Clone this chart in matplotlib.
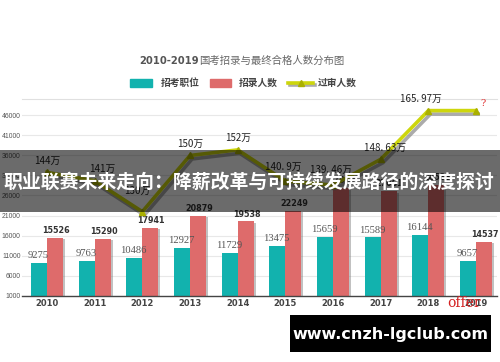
import matplotlib
matplotlib.use("Agg")
import matplotlib.pyplot as plt
import matplotlib.patheffects as pe
from matplotlib.patches import Rectangle
from matplotlib.lines import Line2D
import numpy as np

plt.rcParams['font.family'] = ['Noto Sans CJK SC', 'DejaVu Sans']

years = ['2010', '2011', '2012', '2013', '2014', '2015', '2016', '2017', '2018', '2019']
positions_count = [9275, 9763, 10486, 12927, 11729, 13475, 15659, 15589, 16144, 9657]
hired_count = [15526, 15290, 17941, 20879, 19538, 22249, 27817, 27061, 28533, 14537]
passed_wan = [144, 141, 130, 150, 152, 140.9, 139.46, 148.63, 165.97, 165.97]
passed_labels = ['144万', '141万', '130万', '150万', '152万', '140. 9万', '139. 46万', '148. 63万', '165. 97万', '?']
yticks = [1000, 6000, 11000, 16000, 21000, 26000, 31000, 36000, 41000, 46000]

TEAL = '#12b2ae'
RED = '#de6b6b'
LINE = '#cdd60c'
MARK = '#aab000'

W, H = 500, 362
fig = plt.figure(figsize=(W / 100, H / 100), dpi=100)
fig.patch.set_facecolor('white')

def fx(px):
    return px / W

def fy(py):
    return 1 - py / H

ax = fig.add_axes([fx(22), fy(296), (497 - 22) / W, (296 - 99) / H])
x = np.arange(len(years))
bw = 0.335
shadow = [pe.SimplePatchShadow(offset=(1.5, -1.0), shadow_rgbFace='#777777', alpha=0.45), pe.Normal()]
b1 = ax.bar(x - bw / 2, positions_count, bw, color=TEAL, zorder=3)
b2 = ax.bar(x + bw / 2, hired_count, bw, color=RED, zorder=3)
for b in list(b1) + list(b2):
    b.set_path_effects(shadow)

ax.set_xlim(-0.524, 9.44)
ax.set_ylim(1000, 50000)
ax.set_yticks(yticks)
ax.set_yticklabels([str(v) for v in yticks], fontsize=4.9, color='#555555', family='Liberation Sans')
ax.set_xticks(x)
ax.set_xticklabels(years, fontsize=6, fontweight='bold', color='#444444', family='DejaVu Sans')
ax.tick_params(axis='y', length=0, pad=1.0)
ax.tick_params(axis='x', length=0, pad=2)
ax.grid(axis='y', color='#e8e8e8', linewidth=0.8, zorder=0)
for s in ['left', 'right']:
    ax.spines[s].set_visible(False)
ax.spines['top'].set_color('#e0e0e0')
ax.spines['top'].set_linewidth(0.8)
ax.spines['bottom'].set_color('#444444')
ax.spines['bottom'].set_linewidth(1.0)
ax.spines['bottom'].set_zorder(5)

for i in range(len(years)):
    ax.text(x[i] - bw / 2 - 0.02, positions_count[i] + 700, str(positions_count[i]), ha='center', va='bottom',
            fontsize=7.6, color='#555555', family='Liberation Serif', zorder=6)
    ax.text(x[i] + bw / 2 + 0.02, hired_count[i] + 700, str(hired_count[i]), ha='center', va='bottom',
            fontsize=5.8, color='#333333', fontweight='bold', family='DejaVu Sans', zorder=6)

ax2 = ax.twinx()
ax2.set_ylim(100, 170.1)
ax2.set_xlim(ax.get_xlim())
ax2.axis('off')
ln, = ax2.plot(x, passed_wan, color=LINE, linewidth=2.6, zorder=5, solid_joinstyle='miter')
ln.set_path_effects([pe.SimpleLineShadow(offset=(1.5, -2.5), shadow_color='#888888', alpha=0.7), pe.Normal()])
ax2.plot(x, passed_wan, linestyle='none', marker='^', markersize=4.5, color=MARK, zorder=6)

label_off = {0: (0, 2.4), 1: (0.15, 2.4), 2: (-0.1, 5.5), 3: (0, 2.4), 4: (0, 2.4),
             5: (-0.05, 3.2), 6: (-0.05, 3.8), 7: (0.1, 2.4), 8: (-0.15, 2.4)}
for i in range(9):
    dx, dy = label_off[i]
    ax2.text(x[i] + dx, passed_wan[i] + dy, passed_labels[i], ha='center', va='bottom',
             fontsize=7, color='#222222', zorder=6)
ax2.text(x[9] + 0.15, passed_wan[9] + 0.8, '?', ha='center', va='bottom', fontsize=7,
         color='#e03030', family='DejaVu Serif', zorder=6)

# title
fig.text(fx(199), fy(61), '2010-2019', ha='right', va='center', fontsize=7.2, fontweight='bold',
         color='#555555', family='DejaVu Sans')
fig.text(fx(199), fy(61), '国考招录与最终合格人数分布图', ha='left', va='center', fontsize=7.5,
         color='#666666')

# legend
fig.patches.append(Rectangle((fx(130), fy(87)), fx(22), (87 - 79) / H, transform=fig.transFigure,
                             color=TEAL))
fig.text(fx(161), fy(83), '招考职位', ha='left', va='center', fontsize=7, color='#444444', fontweight='bold')
fig.patches.append(Rectangle((fx(210), fy(87)), fx(21), (87 - 79) / H, transform=fig.transFigure,
                             color=RED))
fig.text(fx(239), fy(83), '招录人数', ha='left', va='center', fontsize=7, color='#444444', fontweight='bold')
lg = Line2D([fx(288), fx(313)], [fy(83), fy(83)], transform=fig.transFigure, color=LINE, linewidth=2.6,
            zorder=5)
lg.set_path_effects([pe.SimpleLineShadow(offset=(1.2, -1.5), shadow_color='#888888', alpha=0.7), pe.Normal()])
fig.lines.append(lg)
lgm = Line2D([fx(300.5)], [fy(83)], transform=fig.transFigure, color=MARK, marker='^', markersize=4.5,
             linestyle='none', zorder=6)
fig.lines.append(lgm)
fig.text(fx(318), fy(83), '过审人数', ha='left', va='center', fontsize=7, color='#444444', fontweight='bold')

# 'offer' stamp
fig.text(fx(464), fy(303), 'offer', ha='center', va='center', fontsize=10, color='#d42020',
         family='DejaVu Serif', zorder=10)

# banner overlay
fig.patches.append(Rectangle((0, fy(212)), 1, (212 - 150) / H, transform=fig.transFigure,
                             facecolor='black', alpha=0.58, zorder=20))
fig.text(fx(249), fy(182), '职业联赛未来走向：降薪改革与可持续发展路径的深度探讨', ha='center', va='center',
         fontsize=13.6, color='white', fontweight='bold', zorder=21)

# watermark box
fig.patches.append(Rectangle((fx(290), fy(352)), fx(201), (352 - 315) / H, transform=fig.transFigure,
                             facecolor='black', zorder=20))
fig.text(fx(390), fy(334), 'www.cnzh-lgclub.com', ha='center', va='center', fontsize=11.5,
         color='white', fontweight='bold', family='DejaVu Sans', zorder=21)

fig.savefig('out.png', dpi=100, facecolor='white')
